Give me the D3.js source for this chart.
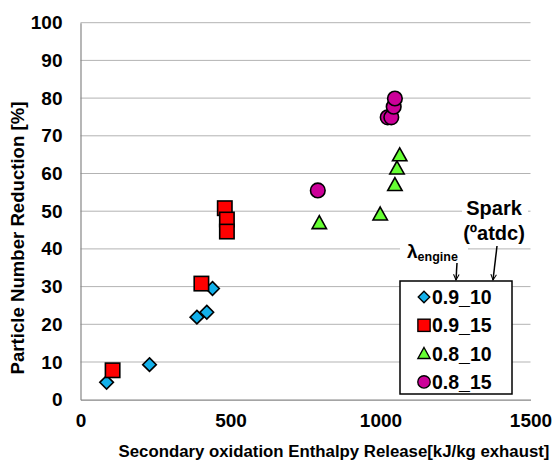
<!DOCTYPE html>
<html><head><meta charset="utf-8">
<script src="https://cdn.jsdelivr.net/npm/d3@7"></script>
<style>body{margin:0;background:#fff}svg{display:block;font-family:"Liberation Sans",Arial,sans-serif;font-weight:bold}</style>
</head><body><svg id="c" width="554" height="462"></svg>
<script>
const xTicks = [0, 500, 1000, 1500];
const yTicks = [0, 10, 20, 30, 40, 50, 60, 70, 80, 90, 100];
const seriesNames = ["0.9_10", "0.9_15", "0.8_10", "0.8_15"];
const s0910 = [[87, 4.6], [230, 9.3], [388, 21.9], [421, 23.2], [440, 29.5]];
const s0915 = [[107, 7.8], [403, 30.8], [481, 50.8], [488, 47.8], [488, 44.6]];
const s0810 = [[796, 46.9], [999, 49.2], [1048, 57.0], [1055, 61.4], [1064, 64.9]];
const s0815 = [[791, 55.5], [1024, 74.9], [1036, 74.9], [1044, 77.7], [1048, 79.9]];

const svg = d3.select("#c");
const M = {l: 80.5, r: 530.5, t: 22.7, b: 399.7};
const x = d3.scaleLinear().domain([0, 1500]).range([M.l, M.r]);
const y = d3.scaleLinear().domain([0, 100]).range([M.b, M.t]);

// gridlines
svg.append("g").selectAll("line").data(yTicks.filter(d => d > 0)).join("line")
  .attr("x1", M.l).attr("x2", M.r).attr("y1", d => y(d)).attr("y2", d => y(d))
  .attr("stroke", "#b3b3b3").attr("stroke-width", 1);

// axes
const yAx = svg.append("g").attr("transform", `translate(${M.l},0)`)
  .call(d3.axisLeft(y).tickValues(yTicks).tickFormat(d3.format("d")).tickSize(0).tickPadding(18));
const xAx = svg.append("g").attr("transform", `translate(0,${M.b})`)
  .call(d3.axisBottom(x).tickValues(xTicks).tickFormat(d3.format("d")).tickSize(0).tickPadding(14));
[yAx, xAx].forEach(g => {
  g.select(".domain").attr("stroke", "#868686").attr("stroke-width", 1.2);
  g.selectAll("text").attr("font-size", 19).attr("font-weight", "bold")
    .attr("font-family", "Liberation Sans, Arial, sans-serif").attr("fill", "#000");
});

// axis titles
svg.append("text").attr("transform", "translate(24,238) rotate(-90)")
  .attr("text-anchor", "middle").attr("font-size", 18.6).text("Particle Number Reduction [%]");
svg.append("text").attr("x", 334).attr("y", 457)
  .attr("text-anchor", "middle").attr("font-size", 16.8).text("Secondary oxidation Enthalpy Release[kJ/kg exhaust]");

// marker drawing
const fills = {"0.9_10": "#12b0ea", "0.9_15": "#ff0000", "0.8_10": "#66ff33", "0.8_15": "#cc0099"};
function marker(g, name, cx, cy, scale) {
  const k = scale || 1;
  let el;
  if (name === "0.9_10") {
    const r = 6.8 * k;
    el = g.append("path").attr("d", `M${cx},${cy - r}L${cx + r},${cy}L${cx},${cy + r}L${cx - r},${cy}Z`);
  } else if (name === "0.9_15") {
    const h = 7.2 * k;
    el = g.append("rect").attr("x", cx - h).attr("y", cy - h).attr("width", 2 * h).attr("height", 2 * h);
  } else if (name === "0.8_10") {
    const h = 7.2 * k;
    el = g.append("path").attr("d", `M${cx},${cy - h}L${cx + h},${cy + h * 0.8}L${cx - h},${cy + h * 0.8}Z`);
  } else {
    el = g.append("circle").attr("cx", cx).attr("cy", cy).attr("r", 7.3 * k);
  }
  el.attr("fill", fills[name]).attr("stroke", "#000").attr("stroke-width", 1.6 * k).attr("stroke-linejoin", "miter");
}

const data = [["0.9_10", s0910], ["0.9_15", s0915], ["0.8_10", s0810], ["0.8_15", s0815]];
const pts = svg.append("g");
data.forEach(([name, arr]) => arr.forEach(([vx, vy]) => marker(pts, name, x(vx), y(vy))));

// annotation labels with white background
const ann = svg.append("g");
ann.append("rect").attr("x", 462).attr("y", 196).attr("width", 66).attr("height", 49).attr("fill", "#fff");
ann.append("rect").attr("x", 400).attr("y", 242).attr("width", 68).attr("height", 23).attr("fill", "#fff");
ann.append("text").attr("x", 494).attr("y", 215).attr("text-anchor", "middle").attr("font-size", 20).text("Spark");
ann.append("text").attr("x", 494).attr("y", 240).attr("text-anchor", "middle").attr("font-size", 20)
  .text("(ºatdc)");
const lam = ann.append("text").attr("x", 407).attr("y", 258).attr("font-size", 19);
lam.append("tspan").text("λ");
lam.append("tspan").attr("font-size", 12.5).attr("dy", 3).text("engine");

// arrows
const defs = svg.append("defs");
defs.append("marker").attr("id", "ah").attr("viewBox", "0 0 10 10").attr("refX", 9).attr("refY", 5)
  .attr("markerWidth", 7).attr("markerHeight", 7).attr("orient", "auto").attr("markerUnits", "userSpaceOnUse")
  .append("path").attr("d", "M1,1L9,5L1,9").attr("fill", "none").attr("stroke", "#000").attr("stroke-width", 1.5);
ann.append("line").attr("x1", 457).attr("y1", 263).attr("x2", 456).attr("y2", 280)
  .attr("stroke", "#000").attr("stroke-width", 1.5).attr("marker-end", "url(#ah)");
ann.append("line").attr("x1", 497).attr("y1", 246).attr("x2", 493).attr("y2", 280)
  .attr("stroke", "#000").attr("stroke-width", 1.5).attr("marker-end", "url(#ah)");

// legend
const lg = svg.append("g");
lg.append("rect").attr("x", 400).attr("y", 281).attr("width", 112).attr("height", 113)
  .attr("fill", "#fff").attr("stroke", "#000").attr("stroke-width", 1.5);
seriesNames.forEach((n, i) => {
  const cy = 297 + i * 28.3;
  marker(lg, n, 424, cy, 0.85);
  lg.append("text").attr("x", 432).attr("y", cy + 7).attr("font-size", 19.5).text(n);
});
</script></body></html>
